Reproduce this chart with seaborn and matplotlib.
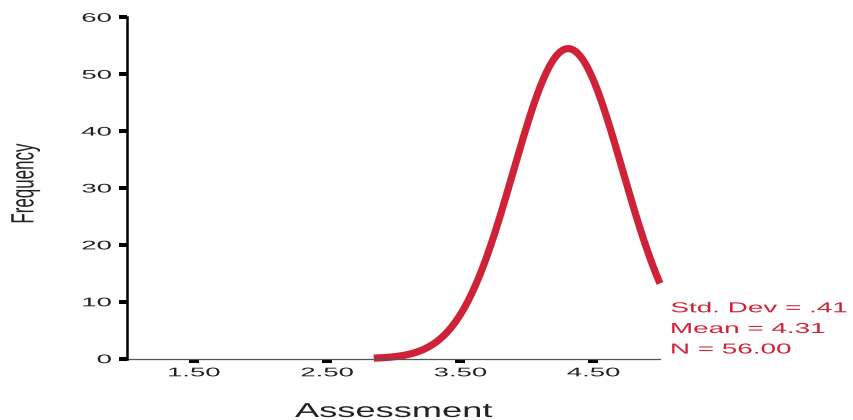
import numpy as np
import pandas as pd
import matplotlib
matplotlib.use("Agg")
import matplotlib.pyplot as plt
import seaborn as sns
from matplotlib.patheffects import AbstractPathEffect
from matplotlib.transforms import Affine2D

# Summary statistics of the Assessment scores
std_dev = 0.41
mean = 4.31
n_cases = 56
bin_width = 1.0
curve_start, curve_end = 2.85, 5.0

x_ticks = [1.5, 2.5, 3.5, 4.5]
x_tick_labels = ["1.50", "2.50", "3.50", "4.50"]
y_ticks = [0, 10, 20, 30, 40, 50, 60]

stats_lines = [
    "Std. Dev = " + f"{std_dev:.2f}".lstrip("0"),
    f"Mean = {mean:.2f}",
    f"N = {n_cases:.2f}",
]

RED = "#cf2238"
W, H = 854, 420


class WideGlyphs(AbstractPathEffect):
    """Draw text glyphs scaled in their own frame: sx widens the line about its
    left/center/right, sy makes glyphs taller about the baseline."""

    def __init__(self, sx=1.0, anchor="center", sy=1.0):
        super().__init__()
        self.sx = sx
        self.sy = sy
        self.anchor = anchor

    def draw_path(self, renderer, gc, tpath, affine, rgbFace=None):
        ext = tpath.get_extents()
        ref = {"left": ext.x0, "center": 0.5 * (ext.x0 + ext.x1), "right": ext.x1}[self.anchor]
        widen = Affine2D().translate(-ref, 0).scale(self.sx, self.sy).translate(ref, 0)
        renderer.draw_path(gc, tpath, widen + affine, rgbFace)


# normal curve implied by the summary statistics (scaled to counts per bin)
xs = np.linspace(curve_start, curve_end, 400)
z = (xs - mean) / std_dev
freq = n_cases * bin_width / (std_dev * np.sqrt(2 * np.pi)) * np.exp(-0.5 * z ** 2)
curve = pd.DataFrame({"Assessment": xs, "Frequency": freq})

sns.set_theme(style="white")
plt.rcParams["font.family"] = ["Liberation Sans", "DejaVu Sans"]

fig = plt.figure(figsize=(W / 100, H / 100), dpi=100)
fig.patch.set_facecolor("white")
ax = fig.add_axes([127.5 / W, 61.3 / H, 532.5 / W, 341.4 / H])
ax.set_facecolor("white")

sns.lineplot(data=curve, x="Assessment", y="Frequency", color=RED, lw=5.2,
             solid_capstyle="butt", ax=ax)
for ln in ax.lines:
    ln.set_clip_on(False)

ax.set_xlim(1, 5)
ax.set_ylim(0, 60)
ax.set_xticks(x_ticks)
ax.set_xticklabels(x_tick_labels)
ax.set_yticks(y_ticks)
ax.set_yticklabels([str(v) for v in y_ticks])

for side in ("top", "right"):
    ax.spines[side].set_visible(False)
ax.spines["left"].set_color("black")
ax.spines["left"].set_linewidth(1.8)
ax.spines["bottom"].set_color("#555555")
ax.spines["bottom"].set_linewidth(0.9)
ax.spines["left"].set_zorder(3)

ax.tick_params(axis="y", direction="out", length=5.8, width=2.9, pad=5.8,
               labelsize=9, color="black", labelcolor="#222222", left=True)
ax.tick_params(axis="x", direction="out", length=2.6, width=7.2, pad=3.6,
               labelsize=9, color="black", labelcolor="#222222", bottom=True)

for lbl in ax.get_yticklabels():
    lbl.set_path_effects([WideGlyphs(2.2, "right")])
for lbl in ax.get_xticklabels():
    lbl.set_path_effects([WideGlyphs(2.2, "center")])

ax.set_ylabel("Frequency", fontsize=12.2, color="#222222", va="center")
ax.yaxis.set_label_coords((28.9 - 127.5) / 532.5, 0.513)
ax.yaxis.label.set_path_effects([WideGlyphs(1.0, "center", sy=1.9)])
ax.set_xlabel("Assessment", fontsize=14.5, color="#222222", va="top")
ax.xaxis.set_label_coords(0.5, (18.0 - 61.3) / 341.4)
ax.xaxis.label.set_path_effects([WideGlyphs(1.8, "center")])

baselines = [312.3, 333.0, 353.5]
for txt, yb in zip(stats_lines, baselines):
    t = fig.text(671 / W, (H - yb) / H, txt, fontsize=10.4, color=RED,
                 ha="left", va="baseline")
    t.set_path_effects([WideGlyphs(1.93, "left")])

fig.savefig("out.png", dpi=100, facecolor="white")
